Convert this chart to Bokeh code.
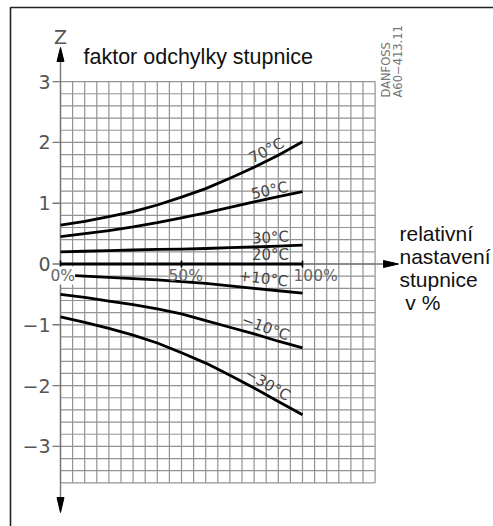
import math
from bokeh.plotting import figure
from bokeh.models import Range1d
from bokeh.core.properties import value
from bokeh.embed import file_html
from bokeh.resources import INLINE

# ---------------- data ----------------
pct = [0, 10, 20, 30, 40, 50, 60, 70, 80, 90, 100]
z_70 = [0.64, 0.70, 0.78, 0.86, 0.97, 1.10, 1.24, 1.41, 1.59, 1.79, 2.01]
z_50 = [0.45, 0.50, 0.55, 0.61, 0.68, 0.76, 0.84, 0.93, 1.02, 1.11, 1.19]
z_30 = [0.20, 0.21, 0.22, 0.23, 0.24, 0.245, 0.255, 0.27, 0.28, 0.295, 0.31]
z_20 = [0, 0, 0, 0, 0, 0, 0, 0, 0, 0, 0]
z_p10 = [-0.18, -0.20, -0.22, -0.24, -0.26, -0.29, -0.32, -0.36, -0.40, -0.44, -0.48]
z_m10 = [-0.50, -0.55, -0.61, -0.67, -0.74, -0.82, -0.93, -1.04, -1.15, -1.27, -1.38]
z_m30 = [-0.87, -0.96, -1.06, -1.17, -1.30, -1.46, -1.63, -1.83, -2.04, -2.26, -2.48]
series = [z_70, z_50, z_30, z_20, z_p10, z_m10, z_m30]
curve_labels = ["70°C", "50°C", "30°C", "20°C", "+10°C", "\u221210°C", "\u221230°C"]

y_ticks = [3, 2, 1, 0, -1, -2, -3]
y_tick_labels = ["3", "2", "1", "0", "\u22121", "\u22122", "\u22123"]
x_ticks = [0, 50, 100]
x_tick_labels = ["0%", "50%", "100%"]

title = "faktor odchylky stupnice"
axis_name = "Z"
x_axis_lines = ["relativní", "nastavení", "stupnice", "\u00a0v %"]
code_lines = ["DANFOSS", "A60\u2212413.11"]

# ---------------- geometry ----------------
W, H = 493, 526
X0PX, XS = 60.0, 2.42      # px of 0 %, px per %
Y0PX, YS = 263.5, 60.8     # px of z=0, px per unit


def dx(px):
    return (px - X0PX) / XS


def dy(py):
    return (Y0PX - py) / YS


p = figure(width=W, height=H, output_backend="svg", toolbar_location=None,
           x_range=Range1d(dx(0), dx(W)), y_range=Range1d(dy(H), dy(0)),
           x_axis_type=None, y_axis_type=None, min_border=0,
           outline_line_color=None, background_fill_color="white",
           border_fill_color="white")
p.grid.visible = False

# outer frame
p.line([dx(10), dx(10), dx(W + 5)], [dy(H + 5), dy(7), dy(7)],
       line_color="#222222", line_width=1.6)

# grid
gx_max, gz_min, gz_max = 130, -3.6, 3.0
vx = [i * 5 for i in range(0, 27)]
p.multi_line([[x, x] for x in vx], [[gz_min, gz_max] for _ in vx],
             line_color="#939393", line_width=1.2)
hz = [round(-3.6 + 0.2 * i, 2) for i in range(0, 34)]
p.multi_line([[0, gx_max] for _ in hz], [[z, z] for z in hz],
             line_color="#939393", line_width=1.2)

# axes lines
p.line([0, 0], [dy(50), dy(508)], line_color="#777777", line_width=1.4)
p.line([0, dx(390)], [0, 0], line_color="#777777", line_width=1.4)
# y ticks
p.multi_line([[dx(52), 0] for _ in y_ticks], [[t, t] for t in y_ticks],
             line_color="#777777", line_width=1.4)

# arrows
p.patch([0, dx(56.5), dx(63.5)], [dy(47), dy(61), dy(61)], color="black")
p.patch([0, dx(56.5), dx(63.5)], [dy(512), dy(497), dy(497)], color="black")
p.patch([dx(398), dx(383), dx(383)], [0, dy(260), dy(267)], color="black")

# curves
for zs in series:
    p.line(pct, zs, line_color="black", line_width=2.8, line_join="round")

# x ticks on zero line
p.multi_line([[t, t] for t in x_ticks], [[dy(260), dy(267)] for _ in x_ticks],
             line_color="black", line_width=1.6)

# x tick labels ("0%" has a white background that hides the +10°C start)
p.text(x=x_ticks[:1], y=[dy(275)], text=x_tick_labels[:1], x_offset=-10,
       text_font=value("DejaVu Sans"), text_font_size="15.5px",
       text_color="#666666", text_align="left", text_baseline="middle",
       background_fill_color="white")
p.text(x=x_ticks[1:], y=[dy(275)] * 2, text=x_tick_labels[1:],
       x_offset=[-13, -9],
       text_font=value("DejaVu Sans"), text_font_size="15.5px",
       text_color="#666666", text_align="left", text_baseline="middle")

# curve labels
lab_px = [(266, 150), (269, 190), (270, 237), (270, 254), (263, 278),
          (265, 327), (267, 384)]
lab_ang = [28, 12, 3, 0, -7, -20, -30]
p.text(x=[dx(a) for a, b in lab_px], y=[dy(b) for a, b in lab_px],
       text=curve_labels, angle=[math.radians(a) for a in lab_ang],
       text_font=value("DejaVu Sans"), text_font_size="15px",
       text_color="#444444", text_align="center", text_baseline="middle")

# y tick labels
p.text(x=[dx(50)] * len(y_ticks), y=y_ticks, text=y_tick_labels,
       text_font=value("DejaVu Sans"), text_font_size="19px",
       text_color="#555555", text_align="right", text_baseline="middle")

# Z
p.text(x=[0], y=[dy(36)], text=[axis_name], text_font=value("DejaVu Sans"),
       text_font_size="19px", text_color="#555555", text_align="center",
       text_baseline="middle")

# title
p.text(x=[dx(83)], y=[dy(56)], text=[title], text_font=value("Liberation Sans"),
       text_font_size="21.5px", text_color="#111111", text_align="left",
       text_baseline="alphabetic")

# x axis name
p.text(x=[dx(399)] * 4, y=[dy(232.5 + 23.3 * i) for i in range(4)],
       text=x_axis_lines, text_font=value("Liberation Sans"),
       text_font_size="21px", text_color="#111111", text_align="left",
       text_baseline="alphabetic")

# drawing code
p.text(x=[dx(392), dx(404)], y=[dy(97), dy(97)], text=code_lines,
       angle=[math.pi / 2] * 2, text_font=value("DejaVu Sans"),
       text_font_size="11.5px", text_color="#777777", text_align="left",
       text_baseline="bottom")

open("out.html", "w").write(file_html(p, INLINE))
